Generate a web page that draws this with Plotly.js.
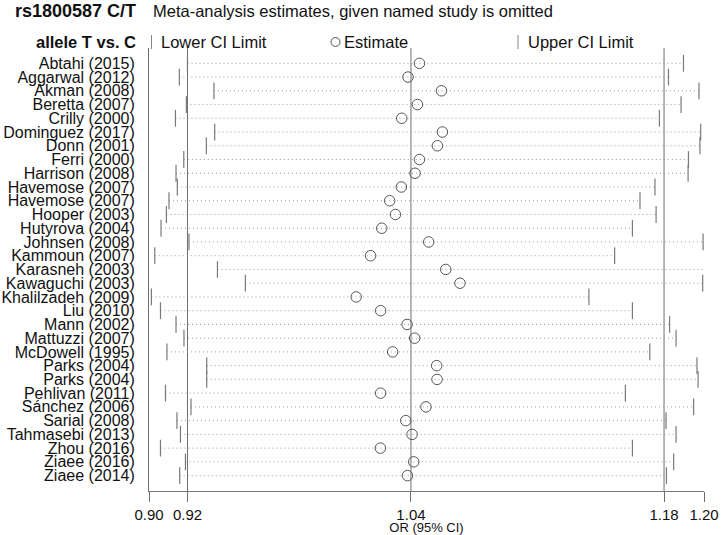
<!DOCTYPE html>
<html>
<head>
<meta charset="utf-8">
<script src="https://cdn.plot.ly/plotly-3.0.1.min.js"></script>
<style>html,body{margin:0;padding:0;background:#fff;}#chart{width:725px;height:535px;}</style>
</head>
<body>
<div id="chart"></div>
<script>
const studies = ["Abtahi (2015)","Aggarwal (2012)","Akman (2008)","Beretta (2007)","Crilly (2000)","Dominguez (2017)","Donn (2001)","Ferri (2000)","Harrison (2008)","Havemose (2007)","Havemose (2007)","Hooper (2003)","Hutyrova (2004)","Johnsen (2008)","Kammoun (2007)","Karasneh (2003)","Kawaguchi (2003)","Khalilzadeh (2009)","Liu (2010)","Mann (2002)","Mattuzzi (2007)","McDowell (1995)","Parks (2004)","Parks (2004)","Pehlivan (2011)","Sánchez (2006)","Sarial (2008)","Tahmasebi (2013)","Zhou (2016)","Ziaee (2016)","Ziaee (2014)"];
const lower = [0.9208,0.9164,0.9351,0.9202,0.9143,0.9355,0.9310,0.9188,0.9146,0.9153,0.9108,0.9094,0.9065,0.9216,0.9031,0.9370,0.9521,0.9013,0.9062,0.9146,0.9189,0.9097,0.9312,0.9312,0.9089,0.9227,0.9151,0.9170,0.9062,0.9197,0.9166];
const estimate = [1.0462,1.0400,1.0581,1.0451,1.0366,1.0586,1.0559,1.0462,1.0438,1.0364,1.0301,1.0332,1.0258,1.0512,1.0198,1.0604,1.0681,1.0120,1.0252,1.0395,1.0436,1.0317,1.0555,1.0557,1.0252,1.0497,1.0388,1.0422,1.0251,1.0431,1.0397];
const upper = [1.1889,1.1808,1.1973,1.1876,1.1759,1.1982,1.1978,1.1916,1.1914,1.1735,1.1654,1.1741,1.1613,1.1995,1.1517,1.2002,1.1993,1.1378,1.1613,1.1814,1.1849,1.1707,1.1962,1.1968,1.1575,1.1944,1.1795,1.1849,1.1613,1.1836,1.1797];
const overall = [0.9208, 1.0416, 1.1784];   // lower CI, estimate, upper CI of full meta-analysis
const axisMin = 0.90, axisMax = 1.20;
const xTickVals = [axisMin, overall[0], overall[1], overall[2], axisMax];
const xTickText = ["0.90","0.92","1.04","1.18","1.20"];

const W = 725, H = 535, ML = 149, MR = 21, MT = 48, MB = 44;
const PW = W - ML - MR, PH = H - MT - MB;
const px = x => (x - ML) / PW;
const py = y => (H - MB - y) / PH;

const rows = studies.map((_, i) => i);
const segX = [], segY = [];
rows.forEach(i => { segX.push(lower[i], upper[i], null); segY.push(i, i, null); });

const FONT = "Liberation Sans, Arial, sans-serif";

const traces = [
  {x: segX, y: segY, mode: "lines", line: {color: "#9a9a9a", width: 1, dash: "1px,3px"}, hoverinfo: "skip", showlegend: false},
  {x: lower, y: rows, mode: "markers", marker: {symbol: "line-ns", size: 12, line: {color: "#7a7a7a", width: 1.2}}, showlegend: false, cliponaxis: false},
  {x: upper, y: rows, mode: "markers", marker: {symbol: "line-ns", size: 12, line: {color: "#7a7a7a", width: 1.2}}, showlegend: false, cliponaxis: false},
  {x: estimate, y: rows, mode: "markers", marker: {symbol: "circle-open", size: 10.5, color: "#555", line: {color: "#555", width: 1}}, showlegend: false, cliponaxis: false}
];

const shapes = overall.map(v => ({type: "line", xref: "x", yref: "paper", x0: v, x1: v, y0: 0, y1: 1, line: {color: "#6e6e6e", width: 1}, layer: "below"}));
// legend symbols
shapes.push({type: "line", xref: "paper", yref: "paper", x0: px(151.5), x1: px(151.5), y0: py(35), y1: py(49), line: {color: "#888", width: 1}});
shapes.push({type: "circle", xref: "paper", yref: "paper", x0: px(331), x1: px(340), y0: py(37.5), y1: py(46.5), line: {color: "#555", width: 1}});
shapes.push({type: "line", xref: "paper", yref: "paper", x0: px(518), x1: px(518), y0: py(35), y1: py(49), line: {color: "#888", width: 1}});

const ann = (text, x, y, anchor, bold, size) => ({text: bold ? "<b>" + text + "</b>" : text, xref: "paper", yref: "paper", x: px(x), y: py(y), xanchor: anchor, yanchor: "middle", showarrow: false, font: {family: FONT, size: size, color: "#111"}});
const annotations = [
  ann("rs1800587 C/T", 138, 11, "right", true, 18),
  ann("Meta-analysis estimates, given named study is omitted", 151, 11, "left", false, 16.5),
  ann("allele T vs. C", 138, 42, "right", true, 16.5),
  ann("Lower CI Limit", 159, 42, "left", false, 16.5),
  ann("Estimate", 342, 42, "left", false, 16.5),
  ann("Upper CI Limit", 526, 42, "left", false, 16.5)
];

const layout = {
  width: W, height: H,
  margin: {l: ML, r: MR, t: MT, b: MB, pad: 0},
  paper_bgcolor: "#fff", plot_bgcolor: "#fff",
  showlegend: false,
  font: {family: FONT, color: "#111"},
  xaxis: {
    range: [axisMin, axisMax], showgrid: false, zeroline: false,
    showline: true, linecolor: "#7a7a7a", linewidth: 1,
    tickmode: "array", tickvals: xTickVals, ticktext: xTickText,
    ticks: "outside", ticklen: 10, tickcolor: "#6e6e6e", tickwidth: 1,
    tickfont: {family: FONT, size: 15, color: "#111"},
    title: {text: "OR (95% CI)", font: {family: FONT, size: 13, color: "#111"}, standoff: 0}
  },
  yaxis: {
    range: [31.12, -1.114], showgrid: false, zeroline: false,
    showline: true, linecolor: "#6e6e6e", linewidth: 1,
    tickmode: "array", tickvals: rows, ticktext: studies,
    ticks: "", ticklabelstandoff: 10,
    tickfont: {family: FONT, size: 16, color: "#111"}
  },
  shapes: shapes,
  annotations: annotations
};

Plotly.newPlot("chart", traces, layout, {displayModeBar: false, staticPlot: true});
</script>
</body>
</html>
